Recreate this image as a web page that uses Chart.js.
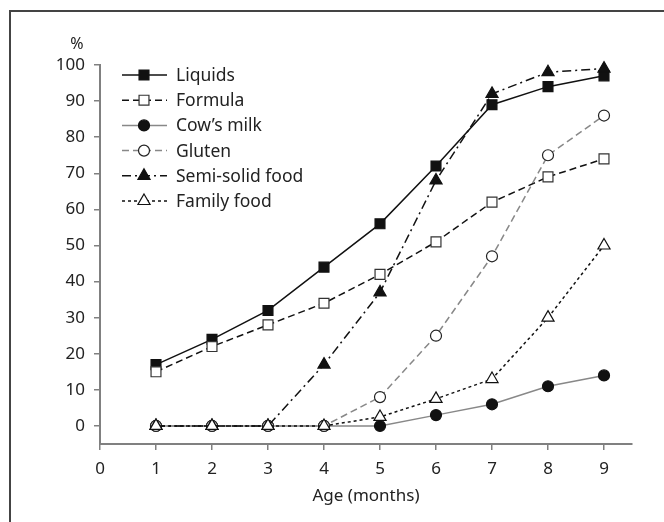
<!DOCTYPE html>
<html>
<head>
<meta charset="utf-8">
<script src="https://cdn.jsdelivr.net/npm/chart.js@4.4.0/dist/chart.umd.min.js"></script>
<style>
  html, body { margin: 0; padding: 0; background: #fff; }
  #wrap { width: 664px; height: 522px; }
</style>
</head>
<body>
<div id="wrap"><canvas id="feedChart" width="664" height="522"></canvas></div>
<script>
const months = [1, 2, 3, 4, 5, 6, 7, 8, 9];
const liquids = [17, 24, 32, 44, 56, 72, 89, 94, 97];
const formula = [15, 22, 28, 34, 42, 51, 62, 69, 74];
const cowsMilk = [0, 0, 0, 0, 0, 3, 6, 11, 14];
const gluten = [0, 0, 0, 0, 8, 25, 47, 75, 86];
const semiSolid = [0, 0, 0, 17, 37, 68, 92, 98, 99];
const familyFood = [0, 0, 0, 0, 2.5, 7.5, 13, 30, 50];
const xTicks = [0, 1, 2, 3, 4, 5, 6, 7, 8, 9];
const yTicks = [0, 10, 20, 30, 40, 50, 60, 70, 80, 90, 100];

const FONT = "'Noto Sans', 'Open Sans', sans-serif";
const AXIS_GREY = '#808080';

function pts(values) {
  return months.map((m, i) => ({ x: m, y: values[i] }));
}

function series(label, values, opts) {
  return Object.assign({
    label: label,
    data: pts(values),
    borderColor: '#111',
    borderWidth: 1.5,
    pointBorderColor: '#111',
    pointBorderWidth: 1.2,
    pointRadius: 5.5,
    pointHoverRadius: 5.5,
    fill: false,
    tension: 0,
    clip: false,
  }, opts);
}

const datasets = [
  series('Liquids', liquids, { pointStyle: 'rect', pointBackgroundColor: '#111', pointRadius: 7, order: 6 }),
  series('Formula', formula, { pointStyle: 'rect', pointBackgroundColor: '#fff', borderDash: [7, 4], pointBorderColor: '#333', pointRadius: 7, order: 5 }),
  series('Cow\u2019s milk', cowsMilk, { pointStyle: 'circle', pointBackgroundColor: '#111', borderColor: '#888', order: 4 }),
  series('Gluten', gluten, { pointStyle: 'circle', pointBackgroundColor: '#fff', borderColor: '#888', borderDash: [7, 4], pointBorderColor: '#222', order: 3 }),
  series('Semi-solid food', semiSolid, { pointStyle: 'triangle', pointBackgroundColor: '#111', borderDash: [9, 4, 2, 4], pointRadius: 7, order: 2 }),
  series('Family food', familyFood, { pointStyle: 'triangle', pointBackgroundColor: '#fff', borderDash: [3, 3], pointRadius: 7, order: 1 }),
];

// frame, "%" label and the legend inside the plot
const decor = {
  id: 'decor',
  beforeDraw(chart) {
    const c = chart.ctx;
    c.save();
    c.strokeStyle = '#444';
    c.lineWidth = 2;
    c.beginPath();
    c.moveTo(664, 11);
    c.lineTo(10, 11);
    c.lineTo(10, 522);
    c.stroke();
    c.restore();
  },
  afterDraw(chart) {
    const c = chart.ctx;
    c.save();
    c.fillStyle = '#222';
    c.font = '16px ' + FONT;
    c.textAlign = 'center';
    c.textBaseline = 'middle';
    c.fillText('%', 77, 44);

    const x0 = 122, x1 = 167, mx = 144, tx = 176;
    datasets.forEach((ds, i) => {
      const y = 75 + i * 25.2;
      c.save();
      c.strokeStyle = ds.borderColor;
      c.lineWidth = ds.borderWidth;
      c.setLineDash(ds.borderDash || []);
      c.beginPath();
      c.moveTo(x0, y);
      c.lineTo(x1, y);
      c.stroke();
      c.setLineDash([]);
      c.fillStyle = ds.pointBackgroundColor;
      c.strokeStyle = ds.pointBorderColor;
      c.lineWidth = ds.pointBorderWidth;
      Chart.helpers.drawPoint(c, {
        pointStyle: ds.pointStyle,
        radius: ds.pointRadius,
        rotation: 0,
        borderWidth: ds.pointBorderWidth,
      }, mx, y);
      c.restore();
      c.fillStyle = '#222';
      c.font = '17.5px ' + FONT;
      c.textAlign = 'left';
      c.fillText(ds.label, tx, y + 1);
    });
    c.restore();
  }
};

const ctx = document.getElementById('feedChart').getContext('2d');
const feedChart = new Chart(ctx, {
  type: 'line',
  data: { datasets: datasets },
  options: {
    responsive: false,
    animation: false,
    events: [],
    layout: { padding: { top: 65, right: 32, left: 0, bottom: 0 } },
    plugins: {
      legend: { display: false },
      tooltip: { enabled: false },
      title: { display: false },
    },
    scales: {
      x: {
        type: 'linear',
        min: 0,
        max: 9.5,
        afterBuildTicks: (scale) => { scale.ticks = xTicks.map(v => ({ value: v })); },
        afterFit: (scale) => { scale.height = 78; },
        border: { color: AXIS_GREY, width: 2 },
        grid: { drawOnChartArea: false, drawTicks: true, tickLength: 6, color: AXIS_GREY, lineWidth: 1.5 },
        ticks: { color: '#222', font: { family: FONT, size: 17 }, padding: 9, maxRotation: 0 },
        title: { display: true, text: 'Age (months)', color: '#222', font: { family: FONT, size: 17 }, padding: { top: 0, bottom: 16 } },
      },
      y: {
        min: -5,
        max: 100,
        afterBuildTicks: (scale) => { scale.ticks = yTicks.map(v => ({ value: v })); },
        afterFit: (scale) => { scale.width = 100; },
        border: { color: AXIS_GREY, width: 2 },
        grid: { drawOnChartArea: false, drawTicks: true, tickLength: 6, color: AXIS_GREY, lineWidth: 1.5 },
        ticks: { color: '#222', font: { family: FONT, size: 17 }, padding: 9 },
      },
    },
  },
  plugins: [decor],
});
</script>
</body>
</html>
